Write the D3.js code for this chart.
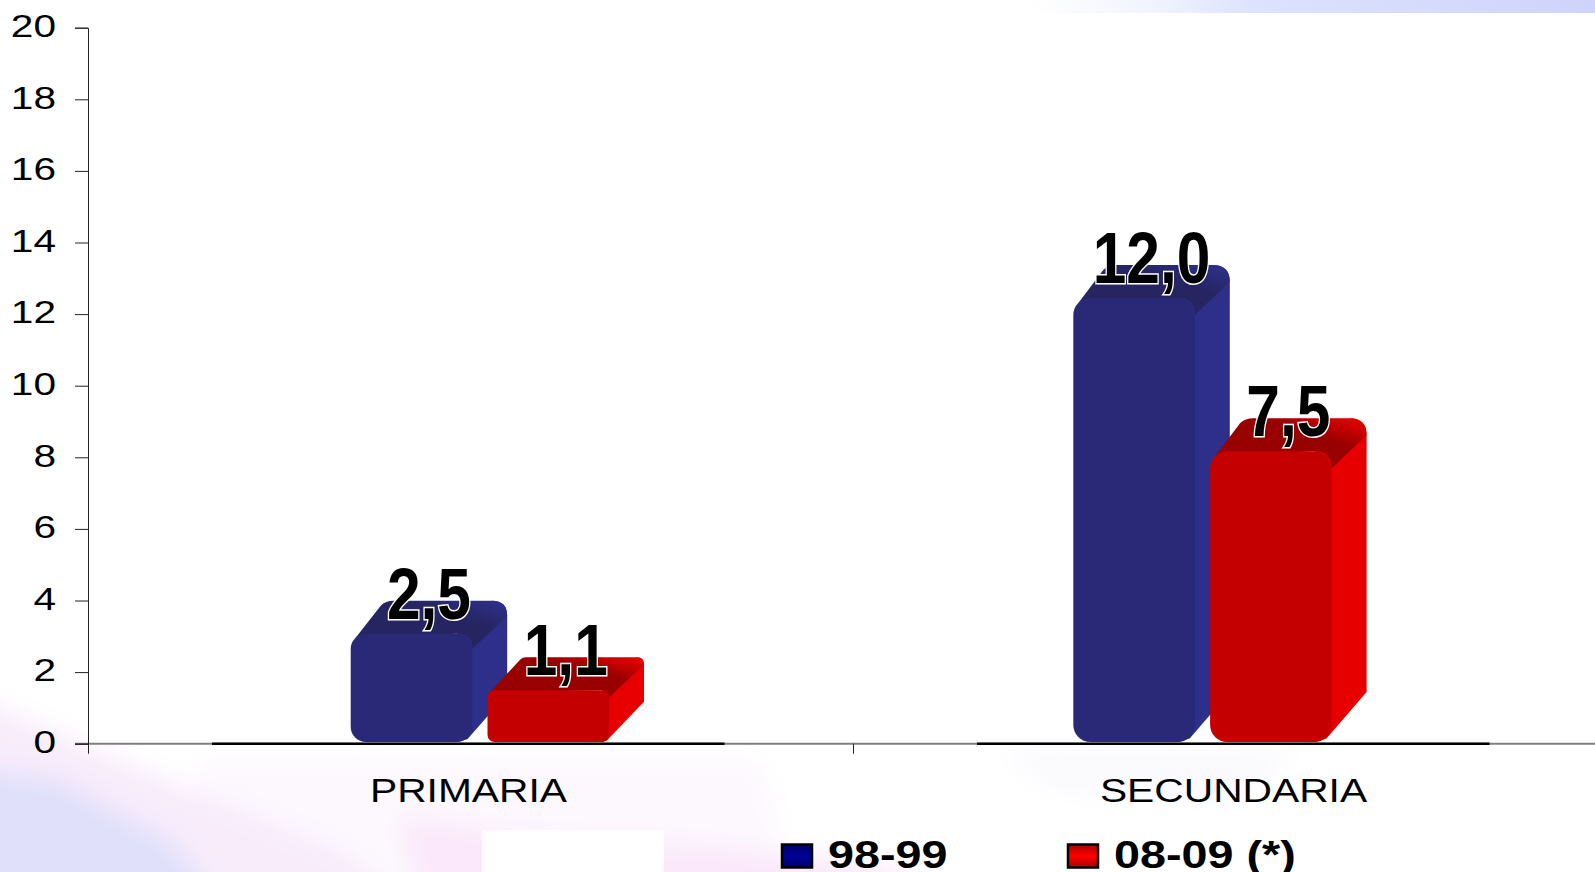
<!DOCTYPE html>
<html>
<head>
<meta charset="utf-8">
<script src="https://cdn.jsdelivr.net/npm/d3@7"></script>
<style>
    html, body { margin: 0; background: #fff; overflow: hidden; }
    text { font-family: "Liberation Sans", Arial, sans-serif; fill: #000; }
</style>
</head>
<body>
<svg id="chart" width="1595" height="872"></svg>
<script>
const categories = ['PRIMARIA', 'SECUNDARIA'];
const seriesNames = ['98-99', '08-09 (*)'];
const values9899 = [2.5, 12.0];
const values0809 = [1.1, 7.5];
const yTicks = [0, 2, 4, 6, 8, 10, 12, 14, 16, 18, 20];

const svg = d3.select('#chart');
const defs = svg.append('defs');

const fmt = d => d.toFixed(1).replace('.', ',');

const palette = [
    { front: '#2a2977', side: '#2e2f8a', top: '#262562', swatch: '#00006a', glow: '#00009a' },
    { front: '#c40000', side: '#e60000', top: '#990000', swatch: '#a80000', glow: '#ff0000' }
];

// soft background, only shows outside of the plot area
defs.append('filter').attr('id', 'blur').attr('x', '-30%').attr('y', '-30%').attr('width', '160%').attr('height', '160%')
    .append('feGaussianBlur').attr('stdDeviation', 12);

const bg = svg.append('g').attr('filter', 'url(#blur)');
bg.append('path').attr('d', 'M200,760 L760,760 L800,910 L200,910 Z').attr('fill', '#fdf8fe');
bg.append('path').attr('d', 'M-40,690 L120,760 L340,850 L420,910 L-40,910 Z').attr('fill', '#f8ecfb');
bg.append('path').attr('d', 'M-40,765 L60,780 L170,840 L230,910 L-40,910 Z').attr('fill', '#e0e0fb');
bg.append('path').attr('d', 'M400,815 L520,835 L700,845 L880,865 L960,910 L420,910 Z').attr('fill', '#fbe8fb');
bg.append('path').attr('d', 'M1000,750 L1300,750 L1240,800 L1050,790 Z').attr('fill', '#fafafe');

// plot area is plain white and hides the background
svg.append('rect').attr('x', 88).attr('y', 0).attr('width', 1507).attr('height', 744).attr('fill', '#fff');

const stripGrad = defs.append('linearGradient').attr('id', 'strip');
[[0, '#ffffff'], [0.2, '#f3f5fe'], [0.4, '#dde2fd'], [1, '#cfd3fb']].forEach(s => {
    stripGrad.append('stop').attr('offset', s[0]).attr('stop-color', s[1]);
});
svg.append('rect').attr('x', 1030).attr('y', 0).attr('width', 565).attr('height', 13).attr('fill', 'url(#strip)');

// white box behind the legend
svg.append('rect').attr('x', 482).attr('y', 830).attr('width', 182).attr('height', 42).attr('fill', '#fff');

// axes
const y = d3.scaleLinear().domain([0, 20]).range([743.7, 27.7]);
const xTickScale = d3.scaleLinear().domain([0, 2]).range([88, 1618]);
const xBand = d3.scaleBand().domain(categories).range([88, 1618]);

// the 3D bars of the original do not sit on the axis scale
const barHeight = d3.scalePow().exponent(0.9).domain([0, 12]).range([0, 444]);
const barX = d3.scalePoint().domain(categories).range([350.7, 1073.3]);
const seriesX = d3.scaleBand().domain(seriesNames).range([0, 258.3]).paddingInner(0.112);

// base line: grey all the way, black under each group
svg.append('line').attr('x1', 75).attr('x2', 1595).attr('y1', y(0)).attr('y2', y(0))
    .attr('stroke', '#808080').attr('stroke-width', 2);
svg.selectAll('line.base').data(categories).enter().append('line')
    .attr('class', 'base')
    .attr('x1', d => xBand(d) + 124)
    .attr('x2', d => xBand(d) + xBand.bandwidth() - 128.5)
    .attr('y1', y(0)).attr('y2', y(0))
    .attr('stroke', '#000').attr('stroke-width', 2.4);

const yAxis = svg.append('g')
    .attr('transform', 'translate(88,0)')
    .call(d3.axisLeft(y).tickValues(yTicks).tickSize(13));
yAxis.select('.domain').attr('stroke', '#222');
yAxis.selectAll('.tick line').attr('stroke', '#222');
yAxis.selectAll('.tick text')
    .attr('x', 0).attr('dy', '0.32em')
    .attr('transform', 'translate(-32,-1.5) scale(1.27,1)')
    .style('font-size', '32px');

const xAxis = svg.append('g')
    .attr('transform', `translate(0,${y(0)})`)
    .call(d3.axisBottom(xTickScale).tickValues([0, 1, 2]).tickSize(10).tickFormat(''));
xAxis.select('.domain').remove();
xAxis.selectAll('.tick line').attr('stroke', '#222');

svg.selectAll('text.cat').data(categories).enter().append('text')
    .attr('class', 'cat')
    .attr('text-anchor', 'middle')
    .attr('transform', d => `translate(${xBand(d) + xBand.bandwidth() / 2 - 2},802) scale(1.235,1)`)
    .style('font-size', '33px')
    .text(d => d);

// bars
const depthX = 35;
const depthY = 33;
const baseY = 742;

function topGradient(id, c) {
    const g = defs.append('linearGradient').attr('id', id)
        .attr('x1', 0).attr('y1', 1).attr('x2', 1).attr('y2', 0);
    g.append('stop').attr('offset', 0.66).attr('stop-color', c.top);
    g.append('stop').attr('offset', 0.96).attr('stop-color', c.side);
}
palette.forEach((c, i) => topGradient('top' + i, c));

function barShape(x0, w, h) {
    const x1 = x0 + w;
    const yT = baseY - h;
    const r = Math.min(17, h * 0.14);
    const backTop = yT - depthY;
    const backRight = x1 + depthX;
    return {
        yT, r,
        side: `M${x1 - r},${yT} L${backRight - r},${backTop} Q${backRight},${backTop} ${backRight},${backTop + r}
               L${backRight},${baseY - depthY - r} L${x1 - r * 0.3},${baseY - r * 0.2} L${x1 - r},${baseY} Z`,
        top: `M${x0 + r * 0.3},${yT + r * 0.3} L${x0 + depthX - r * 0.3},${backTop + r * 0.3}
              Q${x0 + depthX},${backTop} ${x0 + depthX + r * 0.5},${backTop} L${backRight - r},${backTop}
              Q${backRight},${backTop} ${backRight},${backTop + r} L${x1},${yT + r} Q${x1},${yT} ${x1 - r},${yT} Z`
    };
}

const rows = categories.map((cat, i) => ({ cat, series: [values9899[i], values0809[i]] }));

const groups = svg.selectAll('g.cluster').data(rows).enter().append('g').attr('class', 'cluster');

groups.each(function(row) {
    const g = d3.select(this);
    row.series.forEach((v, s) => {
        const x0 = barX(row.cat) + seriesX(seriesNames[s]);
        const w = seriesX.bandwidth();
        const shape = barShape(x0, w, barHeight(v));
        g.append('path').attr('d', shape.side).attr('fill', palette[s].side);
        g.append('path').attr('d', shape.top).attr('fill', `url(#top${s})`);
        g.append('rect')
            .attr('x', x0).attr('y', shape.yT)
            .attr('width', w).attr('height', barHeight(v))
            .attr('rx', shape.r).attr('ry', shape.r)
            .attr('fill', palette[s].front);
    });
});

// value labels on top of everything
groups.each(function(row) {
    const g = d3.select(this);
    row.series.forEach((v, s) => {
        const x0 = barX(row.cat) + seriesX(seriesNames[s]);
        const cx = x0 + (seriesX.bandwidth() + depthX) / 2;
        g.append('text')
            .attr('transform', `translate(${cx},${baseY - barHeight(v) - 15}) scale(0.84,1)`)
            .attr('text-anchor', 'middle')
            .style('font-weight', 'bold')
            .style('font-size', '72px')
            .style('paint-order', 'stroke')
            .attr('stroke', '#fff')
            .attr('stroke-width', 3)
            .text(fmt(v));
    });
});

// legend
const legendX = d3.scaleOrdinal().domain(seriesNames).range([781, 1067]);
palette.forEach((c, i) => {
    const g = defs.append('linearGradient').attr('id', 'sw' + i).attr('x1', 0).attr('y1', 0).attr('x2', 0).attr('y2', 1);
    g.append('stop').attr('offset', 0).attr('stop-color', c.swatch);
    g.append('stop').attr('offset', 0.5).attr('stop-color', c.glow);
    g.append('stop').attr('offset', 1).attr('stop-color', c.swatch);
});
const legend = svg.selectAll('g.legend').data(seriesNames).enter().append('g')
    .attr('class', 'legend')
    .attr('transform', d => `translate(${legendX(d)},0)`);
legend.append('rect')
    .attr('x', 1).attr('y', 844.5).attr('width', 30).attr('height', 23)
    .attr('fill', (d, i) => `url(#sw${i})`)
    .attr('stroke', '#000').attr('stroke-width', 2.5);
legend.append('text')
    .attr('transform', 'translate(47,868) scale(1.23,1)')
    .style('font-weight', 'bold')
    .style('font-size', '38px')
    .text(d => d);
</script>
</body>
</html>
